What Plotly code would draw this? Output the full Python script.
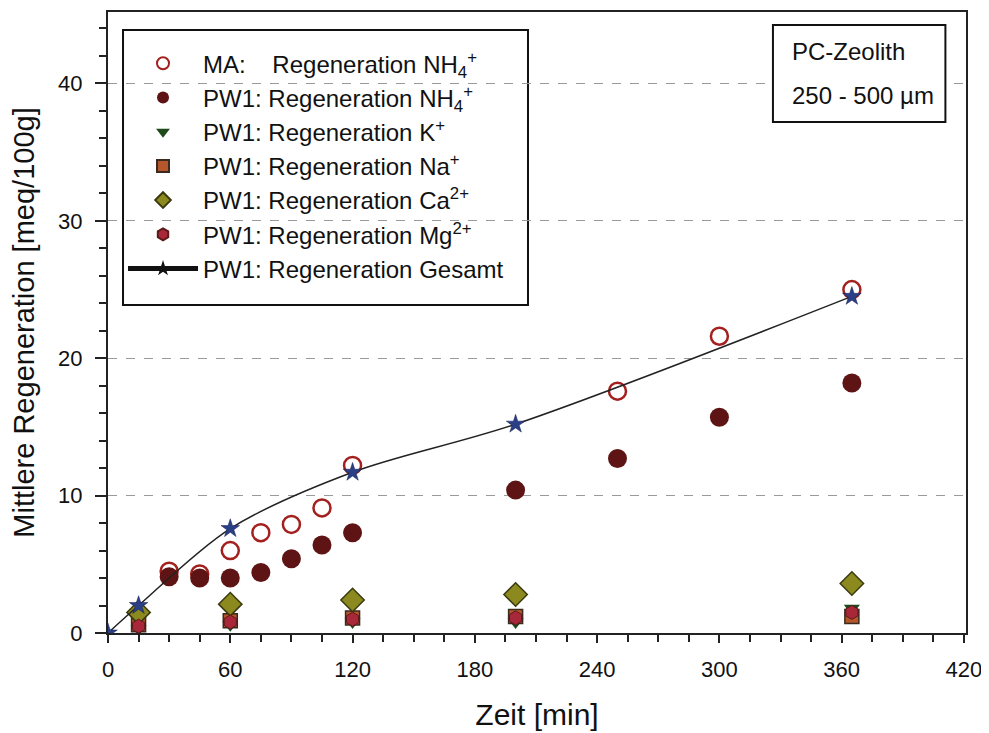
import plotly.graph_objects as go

# Data
t_ma = [30, 45, 60, 75, 90, 105, 120, 250, 300, 365]
ma_nh4 = [4.5, 4.3, 6.0, 7.3, 7.9, 9.1, 12.2, 17.6, 21.6, 25.0]

t_pw = [30, 45, 60, 75, 90, 105, 120, 200, 250, 300, 365]
pw_nh4 = [4.1, 4.0, 4.0, 4.4, 5.4, 6.4, 7.3, 10.4, 12.7, 15.7, 18.2]

t_ion = [15, 60, 120, 200, 365]
k_vals = [0.3, 0.6, 0.8, 0.8, 1.8]
na_vals = [0.6, 0.9, 1.1, 1.2, 1.2]
ca_vals = [1.5, 2.1, 2.4, 2.8, 3.6]
mg_vals = [0.5, 0.8, 1.0, 1.1, 1.5]

t_ges = [0, 15, 60, 120, 200, 365]
ges_vals = [0.0, 2.0, 7.6, 11.7, 15.2, 24.5]

x_ticks = [0, 60, 120, 180, 240, 300, 360, 420]
y_ticks = [0, 10, 20, 30, 40]

FONT = "Liberation Sans, Arial, sans-serif"

fig = go.Figure()

fig.add_trace(go.Scatter(
    x=t_ma, y=ma_nh4, mode="markers",
    name="MA:    Regeneration NH<sub>4</sub><sup>+</sup>",
    marker=dict(symbol="circle-open", size=17, color="#A3201E", line=dict(width=2.5, color="#A3201E"))))
fig.add_trace(go.Scatter(
    x=t_pw, y=pw_nh4, mode="markers",
    name="PW1: Regeneration NH<sub>4</sub><sup>+</sup>",
    marker=dict(symbol="circle", size=19, color="#5E1414")))
fig.add_trace(go.Scatter(
    x=t_ion, y=k_vals, mode="markers",
    name="PW1: Regeneration K<sup>+</sup>",
    marker=dict(symbol="triangle-down", size=14, color="#1E4A1A")))
fig.add_trace(go.Scatter(
    x=t_ion, y=na_vals, mode="markers",
    name="PW1: Regeneration Na<sup>+</sup>",
    marker=dict(symbol="square", size=14, color="#B5572A", line=dict(width=1.5, color="#3A2A20"))))
fig.add_trace(go.Scatter(
    x=t_ion, y=ca_vals, mode="markers",
    name="PW1: Regeneration Ca<sup>2+</sup>",
    marker=dict(symbol="diamond", size=18, color="#8C8A1E", line=dict(width=1.5, color="#3A3A10"))))
fig.add_trace(go.Scatter(
    x=t_ion, y=mg_vals, mode="markers",
    name="PW1: Regeneration Mg<sup>2+</sup>",
    marker=dict(symbol="hexagon", size=14, color="#A8283A", line=dict(width=1, color="#5A1A1A"))))
fig.add_trace(go.Scatter(
    x=t_ges, y=ges_vals, mode="lines+markers", showlegend=False,
    name="PW1: Regeneration Gesamt",
    line=dict(color="#222222", width=1.5, shape="spline", smoothing=0.9),
    marker=dict(symbol="star", size=14, color="#2A3F86", line=dict(width=0.5, color="#1A2050"))))
# legend entry for the total (black line with black star, as in the original legend)
fig.add_trace(go.Scatter(
    x=[None], y=[None], mode="lines+markers",
    name="PW1: Regeneration Gesamt",
    line=dict(color="#111111", width=1),
    marker=dict(symbol="star", size=14, color="#111111")))

# legend frame
fig.add_shape(type="rect", xref="paper", yref="paper",
              x0=0.0175, x1=0.4895, y0=0.528, y1=0.971,
              line=dict(color="#111111", width=2), fillcolor="white", layer="between")

# info box
fig.add_shape(type="rect", xref="paper", yref="paper",
              x0=0.775, x1=0.976, y0=0.823, y1=0.979,
              line=dict(color="#111111", width=2), fillcolor="white", layer="above")
fig.add_annotation(xref="paper", yref="paper", x=0.795, y=0.936, xanchor="left", yanchor="middle",
                   text="PC-Zeolith", showarrow=False,
                   font=dict(family=FONT, size=24, color="#111111"))
fig.add_annotation(xref="paper", yref="paper", x=0.795, y=0.866, xanchor="left", yanchor="middle",
                   text="250 - 500 µm", showarrow=False,
                   font=dict(family=FONT, size=24, color="#111111"))

fig.update_layout(
    width=989, height=733,
    margin=dict(l=100, r=31, t=4, b=108),
    paper_bgcolor="white", plot_bgcolor="white",
    font=dict(family=FONT, size=22, color="#111111"),
    showlegend=True,
    legend=dict(
        x=0.0175, y=0.953, xanchor="left", yanchor="top",
        bgcolor="rgba(255,255,255,0)", borderwidth=0,
        font=dict(family=FONT, size=24, color="#111111"),
        itemsizing="constant", itemwidth=70, tracegroupgap=0,
    ),
    xaxis=dict(
        range=[0, 421], tickvals=x_ticks, ticks="outside", ticklen=8, tickwidth=1.5,
        tickcolor="#222", showline=True, linecolor="#222", linewidth=2, mirror=True,
        showgrid=False, zeroline=False, automargin=False, ticklabelstandoff=8,
        minor=dict(dtick=15, ticks="outside", ticklen=7, tickcolor="#222", showgrid=False),
        tickfont=dict(size=22),
        title=dict(text="Zeit [min]", font=dict(size=30), standoff=23),
    ),
    yaxis=dict(
        range=[0, 45.2], tickvals=y_ticks, ticks="outside", ticklen=11, tickwidth=1.5,
        tickcolor="#222", showline=True, linecolor="#222", linewidth=2, mirror=True,
        showgrid=True, gridcolor="#9a9a9a", griddash="dash", gridwidth=1, zeroline=False,
        automargin=False, ticklabelstandoff=8,
        minor=dict(dtick=2, ticks="outside", ticklen=7, tickcolor="#222", showgrid=False),
        tickfont=dict(size=22),
        title=dict(text="Mittlere Regeneration [meq/100g]", font=dict(size=29), standoff=18),
    ),
)

fig.write_html("out.html")
